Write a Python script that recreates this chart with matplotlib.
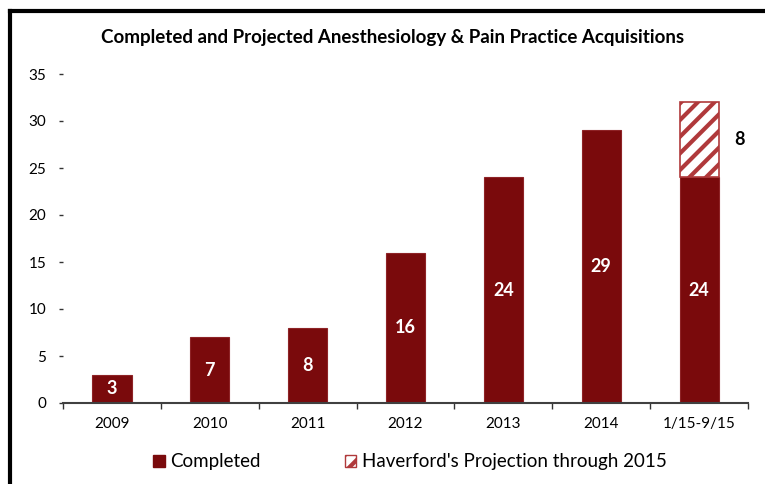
import matplotlib
matplotlib.use("Agg")
import matplotlib.pyplot as plt
from matplotlib.lines import Line2D
from matplotlib.patches import Patch

categories = ["2009", "2010", "2011", "2012", "2013", "2014", "1/15-9/15"]
completed = [3, 7, 8, 16, 24, 29, 24]
projected = [0, 0, 0, 0, 0, 0, 8]
yticks = [0, 5, 10, 15, 20, 25, 30, 35]

plt.rcParams['font.family'] = ['Lato', 'DejaVu Sans']
plt.rcParams['hatch.linewidth'] = 3.0
plt.rcParams['hatch.color'] = '#B0393B'

fig = plt.figure(figsize=(7.65, 4.84), dpi=100)
ax = fig.add_axes([63/765, 1-403/484, (748-63)/765, (403-74)/484])

x = list(range(len(categories)))
dark = '#7A0A0C'
ax.bar(x, completed, width=0.4, color=dark, edgecolor='#8E2326', linewidth=0.8, zorder=2)
proj_x = [i for i, v in enumerate(projected) if v > 0]
ax.bar(proj_x, [projected[i] for i in proj_x], bottom=[completed[i] for i in proj_x],
       width=0.4, color='white', edgecolor='#B0393B', hatch='//', linewidth=1.2, zorder=2)

for i, v in enumerate(completed):
    ax.text(i, v/2, str(v), ha='center', va='center', color='white',
            fontsize=13, fontweight='bold', zorder=3)
for i in proj_x:
    ax.text(i + 0.36, completed[i] + projected[i]/2, str(projected[i]), ha='left', va='center',
            color='black', fontsize=13, fontweight='bold')

ax.set_xlim(-0.5, len(categories) - 0.5)
ax.set_ylim(0, 35)
ax.set_yticks(yticks)
ax.set_yticklabels([str(t) for t in yticks], fontsize=11)
ax.set_xticks(x)
ax.set_xticklabels(categories, fontsize=11)
ax.set_xticks([i - 0.5 for i in range(len(categories) + 1)], minor=True)
ax.tick_params(axis='x', which='major', length=0, pad=10)
ax.tick_params(axis='x', which='minor', length=4, width=1, color='#333333', direction='out')
ax.tick_params(axis='y', length=3, width=1, color='#333333', pad=9)
for s in ['top', 'right', 'left']:
    ax.spines[s].set_visible(False)
ax.spines['bottom'].set_color('#404040')
ax.spines['bottom'].set_linewidth(1.5)

fig.text(393/765, 1-38/484, "Completed and Projected Anesthesiology & Pain Practice Acquisitions",
         ha='center', va='center', fontsize=13.5, fontweight='bold')

handles = [Patch(facecolor=dark, edgecolor=dark),
           Patch(facecolor='white', edgecolor='#B0393B', hatch='//')]
fig.legend(handles, ["Completed", "Haverford's Projection through 2015"],
           loc='center', bbox_to_anchor=(410/765, 1-462/484), ncol=2, frameon=False,
           fontsize=13.5, handlelength=0.6, handleheight=0.6, handletextpad=0.3, columnspacing=4.5)

fig.add_artist(Line2D([10/765, 10/765], [0, 1-11/484], transform=fig.transFigure, color='black', lw=3))
fig.add_artist(Line2D([10/765, 1], [1-11/484, 1-11/484], transform=fig.transFigure, color='black', lw=3))

fig.savefig("out.png", dpi=100)
